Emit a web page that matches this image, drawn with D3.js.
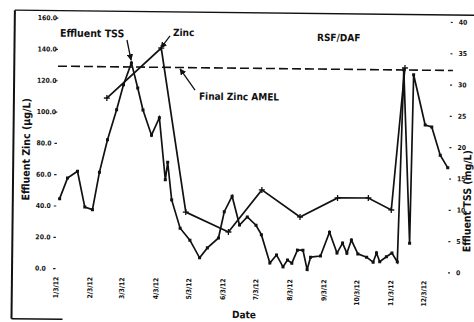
<!DOCTYPE html>
<html>
<head>
<meta charset="utf-8">
<script src="https://cdn.jsdelivr.net/npm/d3@7"></script>
<style>
  html, body { margin: 0; padding: 0; background: #fff; overflow: hidden; }
  svg { display: block; }
  text { font-family: "Liberation Sans Narrow", "Arial Narrow", "DejaVu Sans Condensed", sans-serif; font-weight: bold; fill: #111; }
</style>
</head>
<body>
<svg id="chart" width="474" height="322"></svg>
<script>
// Effluent TSS (mg/L), secondary axis
const tssDates = [
  "2012-01-06","2012-01-13","2012-01-22","2012-01-29","2012-02-05","2012-02-11","2012-02-18","2012-02-26",
  "2012-03-03","2012-03-10","2012-03-16","2012-03-21","2012-03-29","2012-04-05","2012-04-11","2012-04-13",
  "2012-04-17","2012-04-25","2012-05-04","2012-05-13","2012-05-20","2012-05-30","2012-06-04","2012-06-11",
  "2012-06-18","2012-06-25","2012-07-03","2012-07-08","2012-07-16","2012-07-22","2012-07-28","2012-08-01",
  "2012-08-05","2012-08-10","2012-08-15","2012-08-19","2012-08-22","2012-08-31","2012-09-08","2012-09-15",
  "2012-09-20","2012-09-24","2012-09-28","2012-10-04","2012-10-12","2012-10-18","2012-10-21","2012-10-24",
  "2012-10-30","2012-11-04","2012-11-09","2012-11-13","2012-11-20","2012-11-22","2012-12-03","2012-12-09",
  "2012-12-17","2012-12-24"
];
const tssValues = [
  11.1, 14.4, 15.5, 9.8, 9.4, 15.4, 20.6, 25.4,
  29.4, 32.9, 28.9, 25.4, 21.4, 24.2, 14.3, 17.1,
  11.1, 6.6, 4.7, 1.9, 3.5, 5.1, 9.3, 11.8,
  7.2, 8.5, 7.2, 5.7, 1.2, 2.5, 0.6, 1.7,
  1.2, 3.3, 3.3, 0.2, 2.2, 2.4, 6.2, 2.9,
  4.5, 2.9, 5.0, 2.8, 2.3, 1.5, 3.0, 1.6,
  2.4, 3.0, 1.6, 32.3, 4.6, 31.5, 23.5, 23.2,
  18.7, 16.7
];

// Effluent zinc (µg/L), primary axis
const zincDates = [
  "2012-02-17","2012-04-06","2012-04-30","2012-06-08","2012-07-08",
  "2012-08-12","2012-09-15","2012-10-13","2012-11-03","2012-11-14"
];
const zincValues = [109, 141.3, 36.7, 24.3, 51.4, 34.4, 46.8, 47, 39.5, 130.3];

// Final zinc AMEL (µg/L)
const amelZinc = 129;

const dateTicks = [
  "2012-01-03","2012-02-03","2012-03-03","2012-04-03","2012-05-03","2012-06-03",
  "2012-07-03","2012-08-03","2012-09-03","2012-10-03","2012-11-03","2012-12-03"
];
const zincTicks = [0, 20, 40, 60, 80, 100, 120, 140, 160];
const tssTicks = [0, 5, 10, 15, 20, 25, 30, 35, 40];

const parse = d3.timeParse("%Y-%m-%d");
const fmtDate = d3.timeFormat("%-m/%-d/%y");

const svg = d3.select("#chart");
// whole sheet sits slightly askew on the page
const g = svg.append("g").attr("transform", "rotate(0.63)");

const x = d3.scaleTime()
  .domain([parse("2012-01-03"), parse("2012-12-24")])
  .range([58.5, 449.6]);
const yZinc = d3.scaleLinear().domain([0, 160]).range([267.5, 17]);
const yTss = d3.scaleLinear().domain([0, 40]).range([267.5, 17]);

// chart frame
g.append("line").attr("x1", 15).attr("x2", 480).attr("y1", 10).attr("y2", 10)
  .attr("stroke", "#111").attr("stroke-width", 1.4);
g.append("line").attr("x1", 15).attr("x2", 15).attr("y1", 10).attr("y2", 318.6)
  .attr("stroke", "#111").attr("stroke-width", 2);
g.append("line").attr("x1", 15).attr("x2", 66).attr("y1", 318.6).attr("y2", 318.6)
  .attr("stroke", "#111").attr("stroke-width", 1.4);

// left axis: zinc
const leftAxis = g.append("g").attr("transform", "translate(58.5,0)")
  .call(d3.axisLeft(yZinc).tickValues(zincTicks).tickSize(2.5).tickFormat(d3.format(".1f")));
leftAxis.select(".domain").remove();
leftAxis.selectAll(".tick line").attr("stroke", "#222").attr("stroke-width", 1.2);
leftAxis.selectAll(".tick text")
  .attr("x", -20.5).attr("text-anchor", "start")
  .style("font-size", "6.8px").style("font-family", null);

// right axis: TSS
const rightAxis = g.append("g").attr("transform", "translate(451,0)")
  .call(d3.axisRight(yTss).tickValues(tssTicks).tickSize(2).tickFormat(d3.format("d")));
rightAxis.select(".domain").remove();
rightAxis.selectAll(".tick line").attr("stroke", "#222").attr("stroke-width", 1.2);
rightAxis.selectAll(".tick text")
  .attr("x", 8).attr("text-anchor", "start")
  .style("font-size", "6.8px").style("font-family", null);

// bottom axis: dates
const bottomAxis = g.append("g").attr("transform", "translate(0,267.5)")
  .call(d3.axisBottom(x).tickValues(dateTicks.map(parse)).tickSize(0).tickFormat(fmtDate));
bottomAxis.select(".domain").remove();
bottomAxis.selectAll(".tick text")
  .attr("transform", "rotate(-90)")
  .attr("x", -8.5).attr("y", 0).attr("dy", "0.35em")
  .attr("text-anchor", "end")
  .style("font-size", "6.8px").style("font-family", null);

// axis titles
g.append("text").attr("transform", "translate(31.5,149) rotate(-90)")
  .attr("text-anchor", "middle").style("font-size", "10.5px").text("Effluent Zinc (µg/L)");
g.append("text").attr("transform", "translate(473,196) rotate(-90)")
  .attr("text-anchor", "middle").style("font-size", "10.5px").text("Effluent TSS (mg/L)");
g.append("text").attr("x", 247.5).attr("y", 315.5)
  .attr("text-anchor", "middle").style("font-size", "10px").text("Date");

// AMEL limit
g.append("line")
  .attr("x1", 58.7).attr("x2", 453.7)
  .attr("y1", yZinc(amelZinc)).attr("y2", yZinc(amelZinc))
  .attr("stroke", "#111").attr("stroke-width", 1.6).attr("stroke-dasharray", "9,4");

// TSS series
const tssData = tssDates.map((d, i) => ({ date: parse(d), value: tssValues[i] }));
g.append("path").datum(tssData)
  .attr("fill", "none").attr("stroke", "#111").attr("stroke-width", 1.7)
  .attr("stroke-linejoin", "miter")
  .attr("d", d3.line().x(d => x(d.date)).y(d => yTss(d.value)));
g.selectAll(".tss-pt").data(tssData).join("rect").attr("class", "tss-pt")
  .attr("x", d => x(d.date) - 1.5).attr("y", d => yTss(d.value) - 1.5)
  .attr("width", 3).attr("height", 3).attr("fill", "#111");

// zinc series
const zincData = zincDates.map((d, i) => ({ date: parse(d), value: zincValues[i] }));
g.append("path").datum(zincData)
  .attr("fill", "none").attr("stroke", "#111").attr("stroke-width", 1.7)
  .attr("d", d3.line().x(d => x(d.date)).y(d => yZinc(d.value)));
g.selectAll(".zinc-pt").data(zincData).join("path").attr("class", "zinc-pt")
  .attr("d", d => {
    const px = x(d.date), py = yZinc(d.value);
    return `M${px - 3},${py}H${px + 3}M${px},${py - 3}V${py + 3}`;
  })
  .attr("stroke", "#111").attr("stroke-width", 1.3);

// callouts
const defs = svg.append("defs");
defs.append("marker").attr("id", "arrow").attr("viewBox", "0 0 10 10")
  .attr("refX", 9).attr("refY", 5).attr("markerWidth", 5).attr("markerHeight", 5)
  .attr("orient", "auto")
  .append("path").attr("d", "M0,0L10,5L0,10z").attr("fill", "#111");

function callout(label, tx, ty, x1, y1, x2, y2, size) {
  g.append("text").attr("x", tx).attr("y", ty).style("font-size", size + "px").text(label);
  if (x1 !== null) {
    g.append("line").attr("x1", x1).attr("y1", y1).attr("x2", x2).attr("y2", y2)
      .attr("stroke", "#111").attr("stroke-width", 1.3).attr("marker-end", "url(#arrow)");
  }
}
callout("Effluent TSS", 60.4, 36, 127.4, 38.6, 131.7, 58.6, 10.5);
callout("Zinc", 173.3, 34, 170.4, 34.1, 161.5, 46.2, 10);
callout("Final Zinc AMEL", 200, 97.5, 196, 87.9, 180.8, 67, 10);
callout("RSF/DAF", 317.4, 37.4, null, null, null, null, 10);
</script>
</body>
</html>
